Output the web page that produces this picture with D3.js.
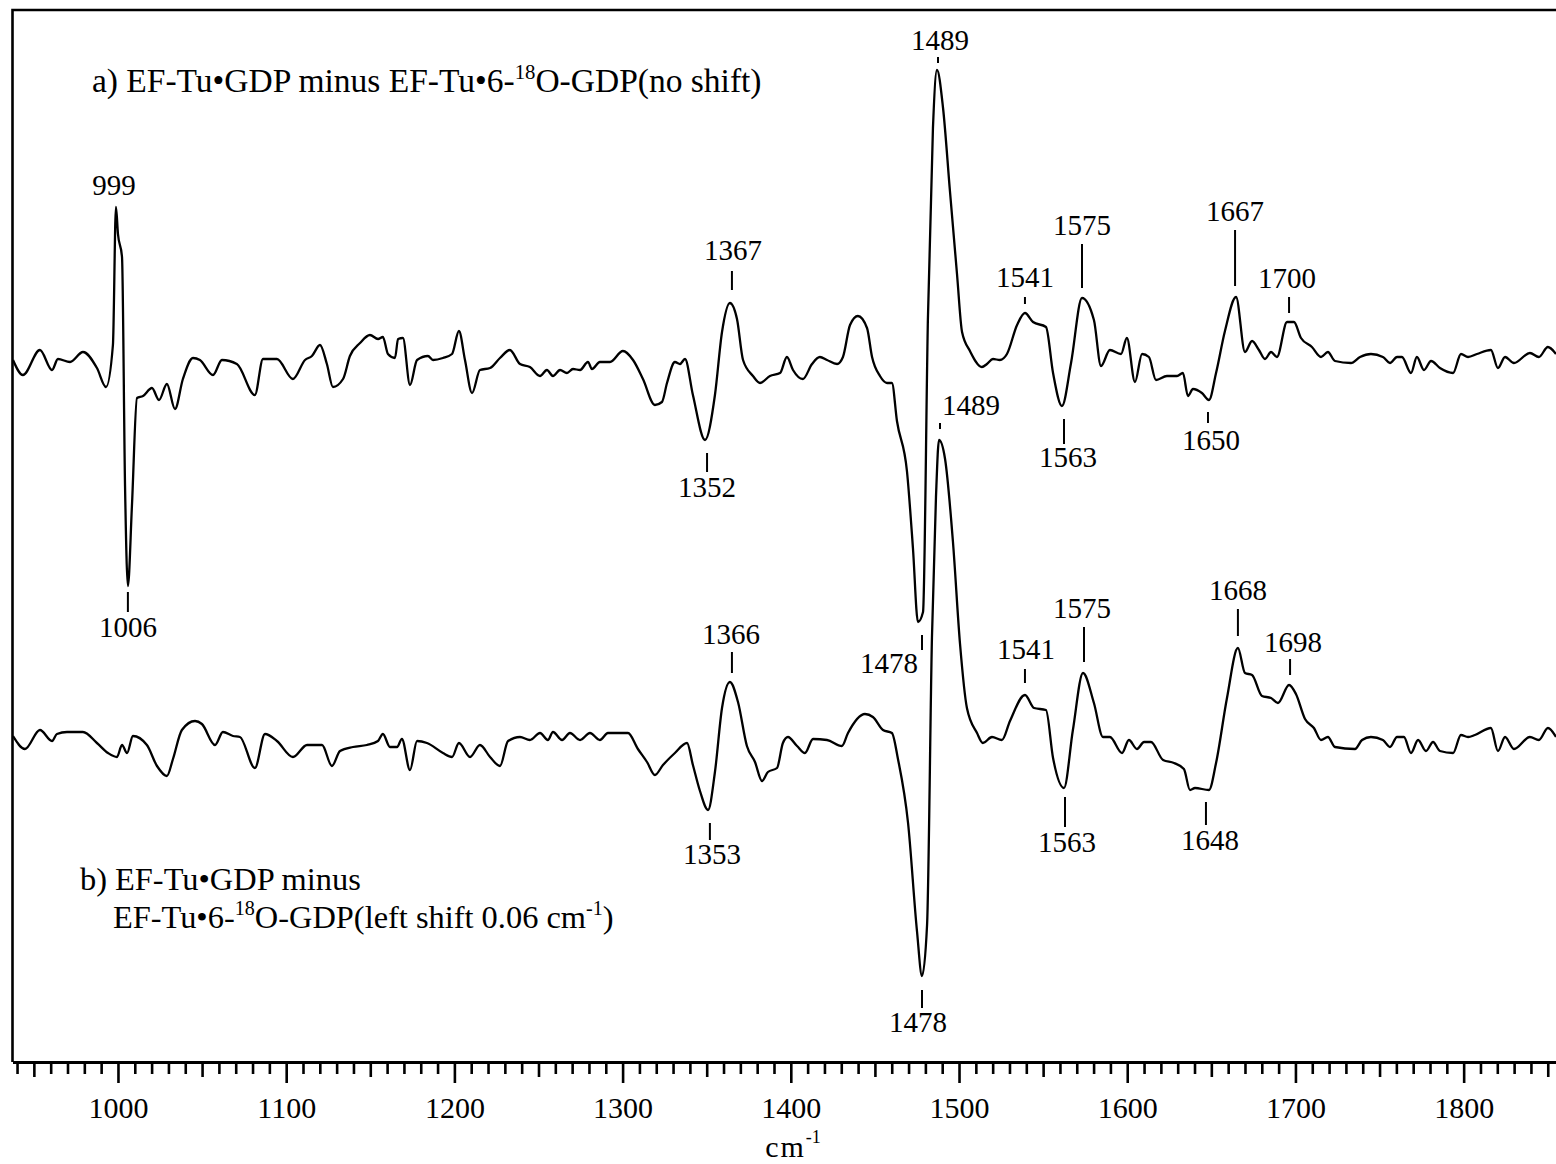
<!DOCTYPE html>
<html>
<head>
<meta charset="utf-8">
<script src="https://cdn.jsdelivr.net/npm/d3@7"></script>
<style>
  html, body { margin: 0; padding: 0; background: #fff; }
  svg { display: block; }
  text { font-family: "Liberation Serif", "Times New Roman", serif; fill: #000; }
</style>
</head>
<body>
<svg id="chart" width="1556" height="1164"></svg>
<script>
// ---------------- DATA ----------------
// x-axis: wavenumber (cm-1); values: difference absorbance (arbitrary units)
const xTicksMajor = [1000, 1100, 1200, 1300, 1400, 1500, 1600, 1700, 1800];

// a) EF-Tu•GDP minus EF-Tu•6-18O-GDP (no shift)  [wavenumber, value]
const spectrumA = [
[937.6,0],[943.5,-1.5],[953.6,1.0],[960.8,-1.0],[964.3,0.1],[971.5,-0.2],[979.2,0.8],[987.5,-0.8],[992.9,-2.7],[997.0,1.5],
[998.8,15.3],[1000.0,12.6],[1002.4,10.3],[1004.2,-12.6],[1005.9,-22.6],[1008.3,-14.6],[1011.3,-3.8],[1014.9,-3.6],[1020.2,-2.8],[1024.4,-4.0],
[1029.1,-2.4],[1033.9,-4.9],[1038.6,-1.9],[1044.6,0.2],[1048.7,0],[1056.5,-1.5],[1061.8,0],[1070.7,-0.4],[1081.4,-3.5],[1086.2,0.1],
[1094.5,0.1],[1104.0,-1.9],[1111.2,0],[1115.3,0.4],[1120.1,1.5],[1124.2,-0.4],[1127.8,-2.7],[1133.8,-1.9],[1137.9,0.4],[1143.9,1.7],
[1149.8,2.5],[1154.6,2.1],[1157.5,2.3],[1160.5,0.6],[1164.7,0.2],[1166.5,2.1],[1169.4,2.2],[1173.6,-2.5],[1177.8,0],[1184.3,0.4],
[1187.3,0],[1193.2,0.2],[1198.6,0.6],[1202.7,2.9],[1206.3,0],[1210.5,-3.3],[1215.2,-1.0],[1221.2,-0.8],[1227.1,0.2],[1233.0,1.0],
[1239.0,-0.4],[1244.9,-0.7],[1250.9,-1.6],[1255.0,-1.0],[1258.6,-1.6],[1262.8,-1.0],[1266.9,-1.3],[1270.5,-0.9],[1274.7,-1.0],[1279.4,-0.2],
[1281.8,-0.9],[1286.5,-0.2],[1292.5,-0.2],[1300.2,0.9],[1306.2,0],[1312.1,-1.9],[1319.2,-4.5],[1323.4,-4.2],[1326.4,-2.3],[1331.1,-0.2],
[1334.1,-0.4],[1337.1,0.1],[1341.8,-3.5],[1349.0,-8.0],[1354.9,-3.5],[1359.1,2.8],[1363.8,5.7],[1368.0,4.1],[1371.6,0],[1377.5,-1.6],
[1381.7,-2.3],[1387.6,-1.6],[1393.6,-1.3],[1397.7,0.3],[1401.3,-1.0],[1407.2,-1.9],[1412.6,-0.4],[1417.3,0.3],[1421.5,0],[1427.5,-0.4],
[1431.0,0.3],[1435.2,3.5],[1439.9,4.4],[1445.3,3.2],[1448.3,0.3],[1453.0,-1.6],[1457.2,-2.3],[1460.1,-2.3],[1463.1,-6.1],[1469.1,-11.2],
[1472.6,-18.8],[1475.6,-26.2],[1478.6,-25.2],[1481.5,4.1],[1484.5,23.2],[1486.9,29.0],[1490.5,25.2],[1494.6,16.9],[1498.8,8.6],[1501.8,2.8],
[1506.5,0.9],[1513.6,-0.7],[1516.6,-0.4],[1520.2,0.1],[1524.3,0],[1528.5,0.6],[1534.5,3.5],[1539.2,4.7],[1544.0,3.8],[1551.7,3.3],
[1555.9,-1.3],[1561.2,-4.6],[1566.6,-0.3],[1573.1,6.2],[1580.2,4.0],[1584.4,-0.6],[1589.7,1.0],[1596.3,0.6],[1599.8,2.2],[1604.6,-2.2],
[1608.8,0.6],[1612.9,0.3],[1617.1,-2.0],[1623.6,-1.6],[1629.6,-1.6],[1633.1,-1.3],[1636.1,-3.6],[1639.1,-2.9],[1644.4,-3.3],[1648.6,-4.0],
[1652.8,-1.3],[1658.1,2.9],[1664.7,6.3],[1670.0,0.8],[1674.2,1.9],[1678.3,1.0],[1681.9,0.1],[1685.5,0.8],[1689.0,0.3],[1695.0,3.8],
[1699.1,3.8],[1703.3,2.2],[1709.8,1.3],[1715.2,0.3],[1719.3,0.8],[1723.5,-0.1],[1733.0,-0.3],[1738.4,0.3],[1744.9,0.6],[1752.0,0.3],
[1756.2,-0.3],[1760.4,0.3],[1763.3,0.3],[1768.7,-1.3],[1772.2,0.3],[1776.4,-1.0],[1780.6,-0.1],[1785.9,-0.8],[1793.7,-1.3],[1798.4,0.6],
[1802.6,0.3],[1807.9,0.6],[1816.2,1.0],[1820.4,-0.8],[1824.6,0.3],[1829.9,-0.3],[1839.4,0.7],[1844.7,0.3],[1850.1,1.3],[1854.9,0.6]
];

// b) EF-Tu•GDP minus EF-Tu•6-18O-GDP (left shift 0.06 cm-1)  [wavenumber, value]
const spectrumB = [
[937.6,0.1],[944.7,-1.2],[953.6,0.7],[960.8,-0.4],[963.7,0.3],[969.7,0.5],[979.2,0.5],[987.5,-0.6],[994.1,-1.6],[999.4,-2.0],
[1002.4,-0.8],[1005.4,-1.6],[1008.9,0.1],[1017.2,-0.8],[1023.2,-2.9],[1029.1,-3.9],[1032.7,-2.2],[1038.0,0.7],[1045.8,1.6],[1049.9,1.3],
[1057.7,-0.8],[1062.4,0.5],[1068.4,0.1],[1072.5,0],[1081.4,-3.1],[1087.4,0.3],[1094.5,-0.4],[1104.0,-2.0],[1112.4,-0.8],[1121.3,-0.8],
[1127.2,-2.9],[1132.0,-1.4],[1139.7,-1.0],[1148.0,-0.8],[1154.6,-0.4],[1157.5,0.3],[1161.7,-1.0],[1165.9,-1.0],[1168.8,-0.2],[1173.6,-3.3],
[1177.8,-0.4],[1183.7,-0.6],[1193.2,-1.6],[1198.6,-2.0],[1202.7,-0.6],[1209.3,-2.0],[1215.2,-0.8],[1221.2,-2.0],[1227.1,-2.9],[1231.9,-0.4],
[1239.0,0],[1244.9,-0.3],[1250.9,0.4],[1255.6,-0.3],[1258.6,0.5],[1264.0,-0.3],[1268.7,0.4],[1274.7,-0.3],[1280.6,0.4],[1286.5,-0.3],
[1291.3,0.4],[1298.4,0.4],[1303.2,0.4],[1309.1,-1.2],[1314.5,-2.5],[1319.2,-3.8],[1324.0,-2.8],[1331.1,-1.6],[1338.3,-0.6],[1341.8,-2.8],
[1346.0,-5.4],[1350.8,-7.3],[1354.9,-3.5],[1359.1,2.9],[1363.8,5.5],[1368.6,3.5],[1373.9,-0.9],[1378.7,-2.5],[1382.9,-4.4],[1386.4,-3.5],
[1391.8,-3.1],[1395.3,-0.6],[1398.3,0],[1403.7,-0.9],[1408.4,-1.6],[1413.2,-0.2],[1421.5,-0.3],[1430.4,-0.9],[1434.0,0.4],[1444.1,2.3],
[1448.8,2.0],[1454.8,0.7],[1460.1,0.4],[1463.7,-2.2],[1469.7,-8.6],[1475.0,-19.4],[1478.0,-23.9],[1481.0,-18.8],[1483.9,9.9],[1486.3,24.0],
[1488.1,29.7],[1491.7,27.8],[1496.4,19.5],[1500.6,9.3],[1504.7,2.9],[1510.7,0.4],[1514.2,-0.6],[1519.6,0],[1525.5,-0.3],[1530.3,1.6],
[1539.2,4.2],[1544.6,2.9],[1551.7,2.7],[1555.9,-2.1],[1562.4,-5.1],[1567.7,0.7],[1573.7,6.4],[1580.2,3.4],[1585.6,0],[1589.7,0],
[1596.9,-1.6],[1601.0,-0.3],[1605.8,-1.2],[1610.0,-0.5],[1614.1,-0.5],[1621.3,-2.3],[1627.8,-2.6],[1633.7,-3.2],[1637.3,-5.3],[1640.3,-5.1],
[1648.6,-5.3],[1652.8,-2.6],[1659.3,3.9],[1665.8,8.9],[1670.0,6.4],[1674.2,6.2],[1680.1,4.1],[1685.5,3.9],[1689.6,3.4],[1696.2,5.2],
[1700.3,4.3],[1705.7,1.8],[1711.0,0.9],[1715.2,-0.3],[1719.3,0],[1723.5,-1.0],[1735.4,-1.2],[1739.6,-0.3],[1744.9,0],[1752.0,-0.3],
[1756.2,-1.0],[1760.4,0],[1764.5,0],[1768.7,-1.6],[1772.9,-0.3],[1777.6,-1.4],[1781.8,-0.5],[1785.9,-1.4],[1793.7,-1.6],[1798.4,0.2],
[1802.6,0],[1806.7,0.2],[1816.2,0.9],[1820.4,-1.4],[1824.6,0],[1829.9,-1.2],[1839.4,0],[1844.7,-0.3],[1850.1,0.9],[1854.9,0]
];

// vertical offsets of the two stacked traces (same units as values)
const seriesOffsets = { a: 70.2, b: 32.5 };

// peak labels: [text, tick wavenumber, tick from, tick to, text wavenumber, text baseline]  (absolute y units)
const peakLabels = [
["999",  null,   null, null, 997.6, 86.7],
["1006", 1005.9, 47.0, 45.0, 1005.9, 42.5],
["1367", 1365.0, 79.1, 77.2, 1365.6, 80.2],
["1352", 1350.2, 60.9, 59.0, 1350.2, 56.5],
["1489", 1487.5, 100.5, 99.9, 1488.7, 101.2],
["1478", 1478.0, 42.7, 41.2, 1458.4, 38.9],
["1541", 1539.2, 76.5, 75.8, 1539.2, 77.5],
["1575", 1573.1, 81.8, 77.4, 1573.1, 82.7],
["1563", 1562.4, 64.3, 61.8, 1564.8, 59.5],
["1667", 1664.1, 83.2, 77.6, 1664.1, 84.1],
["1650", 1648.0, 65.0, 63.9, 1649.8, 61.2],
["1700", 1696.2, 76.5, 74.9, 1695.0, 77.4],
["1489", 1488.7, 63.9, 63.3, 1507.1, 64.7],
["1366", 1365.0, 41.0, 38.9, 1364.4, 41.8],
["1353", 1351.9, 23.9, 22.2, 1353.1, 19.8],
["1478", 1478.0, 7.2, 5.4, 1475.6, 3.0],
["1541", 1539.2, 39.3, 37.9, 1539.8, 40.3],
["1575", 1574.3, 43.5, 40.0, 1573.1, 44.4],
["1563", 1563.0, 26.5, 23.5, 1564.2, 21.0],
["1668", 1665.8, 45.3, 42.6, 1665.8, 46.2],
["1698", 1696.8, 40.3, 38.7, 1698.5, 41.0],
["1648", 1646.8, 26.0, 23.7, 1649.2, 21.2]
];

// ---------------- CHART ----------------
const svg = d3.select("#chart");

const x = d3.scaleLinear().domain([937.3, 1854.9]).range([12.5, 1556]);
const y = d3.scaleLinear().domain([0, 105.2]).range([1062, 10]);

// frame (left + top)
svg.append("path")
  .attr("d", `M${x.range()[1]},${y(105.2)} H${x.range()[0]} V${y(0)}`)
  .attr("fill", "none").attr("stroke", "#000").attr("stroke-width", 2.6);

// axes
const allTicks = d3.range(940, 1851, 10);
const minorTicks = allTicks.filter(v => v % 50 !== 0);
const mediumTicks = allTicks.filter(v => v % 50 === 0 && v % 100 !== 0);

function styleAxis(g) {
  g.selectAll(".tick line").attr("stroke", "#000").attr("stroke-width", 2.6);
  g.selectAll(".domain").attr("stroke", "#000").attr("stroke-width", 2.8);
}
const gMinor = svg.append("g").attr("transform", `translate(0,${y(0)})`)
  .call(d3.axisBottom(x).tickValues(minorTicks).tickSize(12).tickSizeOuter(0).tickFormat(""));
gMinor.select(".domain").remove();
styleAxis(gMinor);
const gMed = svg.append("g").attr("transform", `translate(0,${y(0)})`)
  .call(d3.axisBottom(x).tickValues(mediumTicks).tickSize(15).tickSizeOuter(0).tickFormat(""));
gMed.select(".domain").remove();
styleAxis(gMed);
const gMajor = svg.append("g").attr("transform", `translate(0,${y(0)})`)
  .call(d3.axisBottom(x).tickValues(xTicksMajor).tickSize(21).tickSizeOuter(0).tickFormat(d3.format("d")));
styleAxis(gMajor);
gMajor.selectAll(".tick text")
  .attr("dy", null).attr("y", 56)
  .style("font-family", '"Liberation Serif", serif').style("font-size", "30px").attr("fill", "#000");

// axis unit label  cm-1
const unit = svg.append("text")
  .attr("x", x(1401.3)).attr("y", y(-9.5))
  .attr("text-anchor", "middle").style("font-size", "30px")
  .style("letter-spacing", "2px");
unit.append("tspan").text("cm");
unit.append("tspan").attr("dy", -14).style("font-size", "18px").style("letter-spacing", "0px").text("-1");

// spectra
const line = off => d3.line()
  .x(d => x(d[0]))
  .y(d => y(d[1] + off))
  .curve(d3.curveMonotoneX);

svg.append("path").datum(spectrumA)
  .attr("d", line(seriesOffsets.a))
  .attr("fill", "none").attr("stroke", "#000").attr("stroke-width", 2.3)
  .attr("stroke-linejoin", "round");
svg.append("path").datum(spectrumB)
  .attr("d", line(seriesOffsets.b))
  .attr("fill", "none").attr("stroke", "#000").attr("stroke-width", 2.3)
  .attr("stroke-linejoin", "round");

// peak labels
const gl = svg.append("g");
peakLabels.forEach(([t, tx, t1, t2, lx, ly]) => {
  if (tx !== null) {
    gl.append("line")
      .attr("x1", x(tx)).attr("x2", x(tx))
      .attr("y1", y(t1)).attr("y2", y(t2))
      .attr("stroke", "#000").attr("stroke-width", 2);
  }
  gl.append("text")
    .attr("x", x(lx)).attr("y", y(ly))
    .attr("text-anchor", "middle")
    .style("font-size", "29px")
    .text(t);
});

// trace titles
function applySizes(t, parts, fs) {
  t.style("font-size", fs + "px");
  t.selectAll("tspan").each(function(_, i) {
    const sp = parts[i];
    const s = d3.select(this);
    if (sp.sup) s.attr("dy", -fs * 0.4).style("font-size", (fs * 0.62) + "px");
    if (sp.after) s.attr("dy", fs * 0.4);
  });
}
function addTitle(parts, wx, vy, targetWidth, fixedSize) {
  const t = svg.append("text").attr("x", x(wx)).attr("y", y(vy));
  parts.forEach(p => t.append("tspan").text(p.text));
  let fs = fixedSize;
  if (!fs) {
    applySizes(t, parts, 28);
    const w = t.node().getComputedTextLength();
    fs = 28 * targetWidth / w;
  }
  applySizes(t, parts, fs);
  return fs;
}
addTitle([
  {text: "a) EF-Tu\u2022GDP minus EF-Tu\u20226-"},
  {text: "18", sup: true},
  {text: "O-GDP(no shift)", after: true}
], 984.5, 97.0, 670);
const fsB = addTitle([
  {text: "EF-Tu\u20226-"},
  {text: "18", sup: true},
  {text: "O-GDP(left shift 0.06 cm", after: true},
  {text: "-1", sup: true},
  {text: ")", after: true}
], 997.0, 13.4, 501);
addTitle([
  {text: "b) EF-Tu\u2022GDP minus"}
], 977.4, 17.2, null, fsB);
</script>
</body>
</html>
